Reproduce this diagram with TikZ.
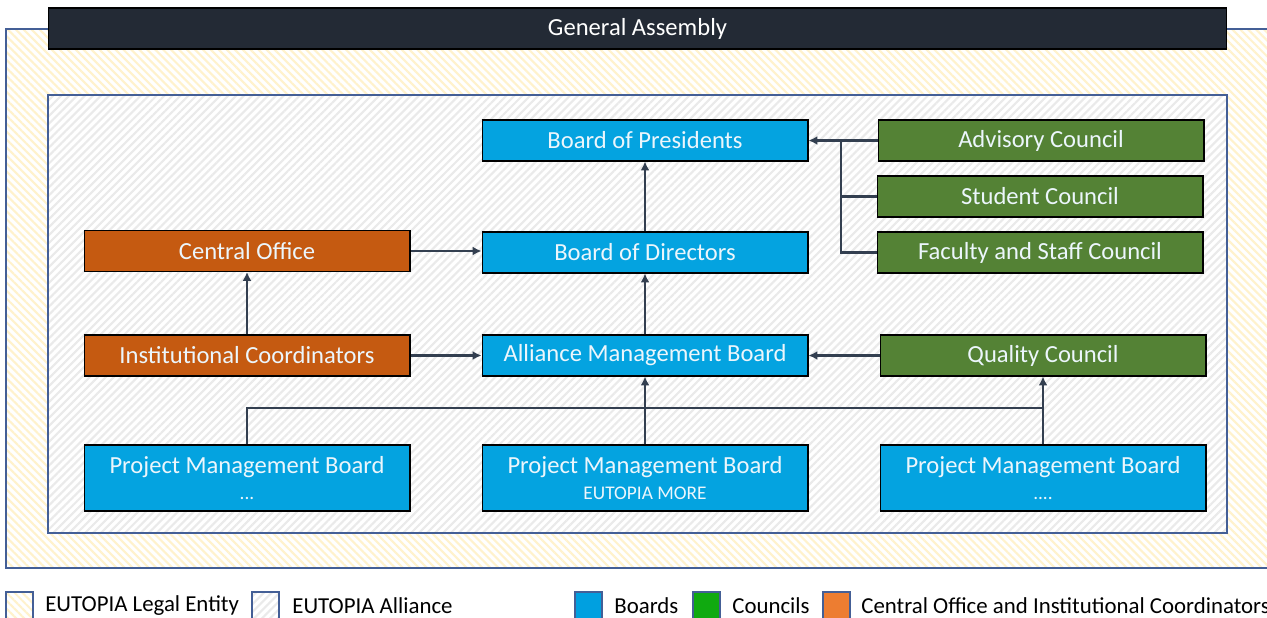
\documentclass[tikz,border=0pt]{standalone}
\usepackage{fontspec}
\setmainfont{Carlito}
\usetikzlibrary{patterns.meta,arrows.meta}
\definecolor{boardblue}{RGB}{4,163,224}
\definecolor{councilgreen}{RGB}{84,130,53}
\definecolor{officeorange}{RGB}{197,90,17}
\definecolor{legblue}{RGB}{0,160,224}
\definecolor{leggreen}{RGB}{16,170,16}
\definecolor{legorange}{RGB}{237,125,49}
\definecolor{linkgray}{RGB}{51,63,80}
\definecolor{frameblue}{RGB}{68,95,150}
\definecolor{gabar}{RGB}{35,42,53}
\definecolor{hatchyellow}{RGB}{255,242,204}
\definecolor{hatchgray}{RGB}{234,234,234}
\definecolor{boxtext}{RGB}{236,246,252}
\tikzset{
  unit/.style={draw=black, line width=0.6pt, text=boxtext, inner sep=0pt,
    minimum width=6.52cm, minimum height=0.82cm, font=\fontsize{14}{16}\selectfont},
  board/.style={unit, fill=boardblue},
  council/.style={unit, fill=councilgreen},
  office/.style={unit, fill=officeorange},
  pmboard/.style={board, minimum height=1.32cm, align=center},
  link/.style={draw=linkgray, line width=1.2pt},
  arr/.style={link, -{Latex[length=5pt,width=5pt]}},
  legalhatch/.style={preaction={fill=white}, pattern={Lines[angle=-45,distance=3.2pt,line width=1.2pt]}, pattern color=hatchyellow},
  alliancehatch/.style={preaction={fill=white}, pattern={Lines[angle=45,distance=3.2pt,line width=1.2pt]}, pattern color=hatchgray},
  legbox/.style={draw=frameblue, line width=0.8pt},
  legtext/.style={anchor=west, inner sep=0pt, font=\fontsize{13}{15}\selectfont}
}
\begin{document}
\begin{tikzpicture}[x=0.02cm,y=-0.02cm]
  \useasboundingbox (0,0) rectangle (1267,618);
  % frames
  \draw[legalhatch, draw=frameblue, line width=1pt] (6,29) rectangle (1300,568);
  \draw[alliancehatch, draw=frameblue, line width=1.2pt] (48,95) rectangle (1227,533);
  \node[draw=black, fill=gabar, text=white, line width=0.6pt, minimum width=23.58cm, minimum height=0.82cm,
    inner sep=0pt, font=\fontsize{14}{16}\selectfont] (ga) at (637.5,28.5) {General Assembly};

  % boxes
  \node[board] (bop) at (645,140.5) {Board of Presidents};
  \node[board] (bod) at (645,252.5) {Board of Directors};
  \node[board] (amb) at (645,355.5) {Alliance Management Board};
  \node[council] (adv) at (1041,140.5) {Advisory Council};
  \node[council] (stu) at (1040,196.5) {Student Council};
  \node[council] (fac) at (1040,252.5) {Faculty and Staff Council};
  \node[council] (qc) at (1043,355.5) {Quality Council};
  \node[office] (co) at (247,251) {Central Office};
  \node[office] (ic) at (247,355.5) {Institutional Coordinators};
  \node[pmboard] (pmb1) at (247,478) {Project Management Board\\[-1pt]{\fontsize{11}{12}\selectfont ...}};
  \node[pmboard] (pmb2) at (645,478) {Project Management Board\\[-1pt]{\fontsize{11}{12}\selectfont EUTOPIA MORE}};
  \node[pmboard] (pmb3) at (1043,478) {Project Management Board\\[-1pt]{\fontsize{11}{12}\selectfont ....}};

  % connectors
  \coordinate (cbus) at (841,140.5);
  \coordinate (pbus) at (1043,408);
  \draw[arr] (adv.west) -- (bop.east);
  \draw[link] (stu.west) -| (cbus);
  \draw[link] (fac.west) -| (cbus);
  \draw[arr] (bod) -- (bop);
  \draw[arr] (amb) -- (bod);
  \draw[arr] (co.east) -- (co.east -| bod.west);
  \draw[arr] (ic) -- (co);
  \draw[arr] (ic) -- (amb);
  \draw[arr] (qc) -- (amb);
  \draw[arr] (pmb2) -- (amb);
  \draw[arr] (pmb3) -- (qc);
  \draw[link] (pmb1.north) |- (pbus);

  % legend
  \draw[legbox, legalhatch] (6,592) rectangle (33,622);
  \node[legtext] (lleg) at (45,606) {EUTOPIA Legal Entity};
  \draw[legbox, alliancehatch] (252,592) rectangle (279,622);
  \node[legtext] (lall) at (292,606) {EUTOPIA Alliance};
  \draw[legbox, fill=legblue] (575,592) rectangle (602,622);
  \node[legtext] (lboa) at (614,606) {Boards};
  \draw[legbox, fill=leggreen] (693,592) rectangle (720,622);
  \node[legtext] (lcou) at (732,606) {Councils};
  \draw[legbox, fill=legorange] (823,592) rectangle (850,622);
  \node[legtext] (loff) at (861,606) {Central Office and Institutional Coordinators};
\end{tikzpicture}
\end{document}
